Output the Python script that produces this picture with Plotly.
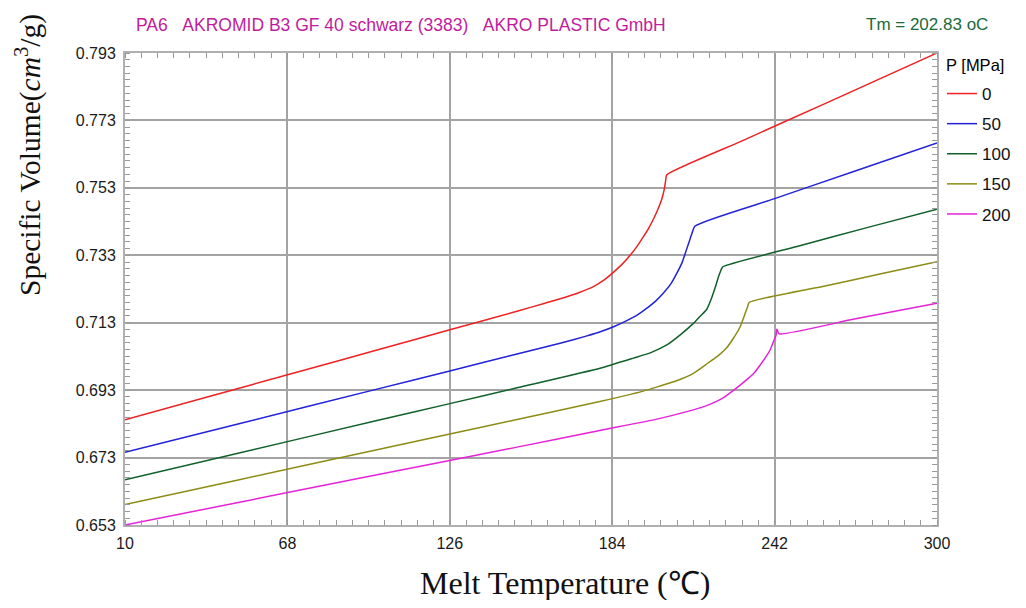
import plotly.graph_objects as go

# ---- data ----
pressures = ["0", "50", "100", "150", "200"]
colors = ["#EE2222", "#2222D6", "#11602A", "#8C8C14", "#E622D8"]

t_p0 = [10, 40, 70, 100, 126, 150, 160, 165.4, 172, 177.3, 181, 184.5, 187.5, 190.4, 193, 195.2,
        197, 198.7, 200.3, 201.7, 202.7, 203.1, 203.5, 230, 260, 300]
v_p0 = [0.6842, 0.6911, 0.6980, 0.7049, 0.7109, 0.7164, 0.7188, 0.7201, 0.7219, 0.7237, 0.7256,
        0.7280, 0.7303, 0.7330, 0.7358, 0.7386, 0.7410, 0.7437, 0.7466, 0.7496, 0.7530, 0.7552,
        0.7569, 0.7668, 0.7780, 0.7930]

t_p50 = [10, 50, 100, 126, 150, 165.4, 175, 180, 184.5, 189.2, 193, 196.4, 199.5, 202.3, 205,
         207.1, 209, 210.1, 211.4, 212.4, 213.6, 242, 270, 300]
v_p50 = [0.6746, 0.6829, 0.6933, 0.6987, 0.7037, 0.7069, 0.7091, 0.7104, 0.7118, 0.7136, 0.7153,
         0.7173, 0.7194, 0.7218, 0.7246, 0.7277, 0.7309, 0.7336, 0.7368, 0.7393, 0.7417, 0.7498,
         0.7578, 0.7663]

t_p100 = [10, 50, 100, 126, 150, 179.7, 191.6, 198, 203.5, 208.3, 213, 215.5, 217.8, 219.5, 220.8,
          222, 222.8, 223.5, 250, 275, 300]
v_p100 = [0.6664, 0.6742, 0.6840, 0.6890, 0.6937, 0.6995, 0.7025, 0.7042, 0.7064, 0.7094, 0.7128,
          0.7150, 0.7170, 0.7203, 0.7235, 0.7267, 0.7285, 0.7296, 0.7356, 0.7412, 0.7467]

t_p150 = [10, 50, 100, 126, 150, 180, 195, 201, 207, 213, 218, 222, 224.4, 227.3, 229.7, 231.5,
          232.3, 232.9, 260, 280, 300]
v_p150 = [0.6591, 0.6663, 0.6753, 0.6800, 0.6843, 0.6897, 0.6927, 0.6942, 0.6958, 0.6980, 0.7009,
          0.7033, 0.7051, 0.7084, 0.7118, 0.7158, 0.7176, 0.7190, 0.7239, 0.7275, 0.7311]

t_p200 = [10, 50, 100, 126, 150, 180, 200, 211, 217, 223, 228, 232.6, 235, 236.9, 238.6, 240.4,
          241.6, 242.5, 242.8, 243.6, 270, 300]
v_p200 = [0.6530, 0.6596, 0.6679, 0.6721, 0.6761, 0.6811, 0.6844, 0.6867, 0.6882, 0.6904, 0.6934,
          0.6965, 0.6984, 0.7005, 0.7025, 0.7049, 0.7074, 0.7092, 0.7111, 0.7097, 0.7140, 0.7188]

x_ticks = [10, 68, 126, 184, 242, 300]
y_ticks = [0.653, 0.673, 0.693, 0.713, 0.733, 0.753, 0.773, 0.793]

title_text = "PA6\u00a0\u00a0\u00a0AKROMID B3 GF 40 schwarz (3383)\u00a0\u00a0\u00a0AKRO PLASTIC GmbH"
tm_text = "Tm = 202.83 oC"
legend_title = "P [MPa]"
x_title = "Melt Temperature (\u2103)"
y_title = "Specific Volume(<i>cm</i><sup>3</sup>/g)"

series_t = [t_p0, t_p50, t_p100, t_p150, t_p200]
series_v = [v_p0, v_p50, v_p100, v_p150, v_p200]

# ---- figure ----
fig = go.Figure()
for name, col, ts, vs in zip(pressures, colors, series_t, series_v):
    fig.add_trace(go.Scatter(x=ts, y=vs, mode="lines", name=name, legendgroup=name,
                             line=dict(color=col, width=1.5, shape="spline", smoothing=0.5)))

# page body has an 8px margin; keep the figure small enough to avoid scrollbars
OFF = 8
W, H = 1010, 592
L, T = 125 - OFF, 53 - OFF
R = W - (937 - OFF)
B = H - (525 - OFF)
pw = W - L - R
ph = H - T - B

def px_x(p):
    return (p - OFF - L) / pw

def px_y(p):
    return (H - B - (p - OFF)) / ph

grid_col = "#A3A3A3"
axis_font = dict(family="Liberation Sans, Arial, sans-serif", size=16, color="#1A1A1A")
sans = "Liberation Sans, Arial, sans-serif"
serif = "Liberation Serif, Times New Roman, serif"

fig.update_xaxes(range=[10, 300], tickvals=x_ticks, ticktext=[str(v) for v in x_ticks],
                 showgrid=True, gridcolor=grid_col, gridwidth=2,
                 showline=True, linecolor="#B0B0B0", linewidth=2, mirror="allticks",
                 ticks="", zeroline=False, tickfont=axis_font, ticklabelstandoff=3,
                 minor=dict(dtick=5.8, tick0=10, ticks="inside", ticklen=5,
                            tickcolor="#999999", tickwidth=1, showgrid=False))
fig.update_yaxes(range=[0.653, 0.793], tickvals=y_ticks, ticktext=[f"{v:.3f}" for v in y_ticks],
                 showgrid=True, gridcolor=grid_col, gridwidth=2,
                 showline=True, linecolor="#B0B0B0", linewidth=2, mirror="allticks",
                 ticks="", zeroline=False, tickfont=axis_font, ticklabelstandoff=4,
                 minor=dict(dtick=0.002, tick0=0.653, ticks="inside", ticklen=5,
                            tickcolor="#999999", tickwidth=1, showgrid=False))

fig.update_layout(
    width=W, height=H,
    margin=dict(l=L, r=R, t=T, b=B, autoexpand=False),
    paper_bgcolor="white", plot_bgcolor="white",
    showlegend=True,
    legend=dict(x=px_x(942), y=px_y(76), xanchor="left", yanchor="top",
                bgcolor="rgba(0,0,0,0)", borderwidth=0,
                font=dict(family=sans, size=17, color="#111111"),
                tracegroupgap=5, itemwidth=30),
    annotations=[
        dict(text=legend_title, xref="paper", yref="paper", x=px_x(944), y=px_y(65),
             xanchor="left", yanchor="middle", showarrow=False,
             font=dict(family=sans, size=16.5, color="#000000")),
        dict(text=title_text, xref="paper", yref="paper", x=px_x(134), y=px_y(25),
             xanchor="left", yanchor="middle", showarrow=False,
             font=dict(family=sans, size=17.5, color="#C01C9E")),
        dict(text=tm_text, xref="paper", yref="paper", x=px_x(990), y=px_y(25),
             xanchor="right", yanchor="middle", showarrow=False,
             font=dict(family=sans, size=17, color="#1A6A3A")),
        dict(text=x_title, xref="paper", yref="paper", x=px_x(565), y=px_y(583),
             xanchor="center", yanchor="middle", showarrow=False,
             font=dict(family=serif, size=32, color="#111111")),
        dict(text=y_title, xref="paper", yref="paper", x=px_x(28), y=px_y(155),
             xanchor="center", yanchor="middle", showarrow=False, textangle=-90,
             font=dict(family=serif, size=29.5, color="#111111")),
    ],
)

fig.write_html("out.html")
